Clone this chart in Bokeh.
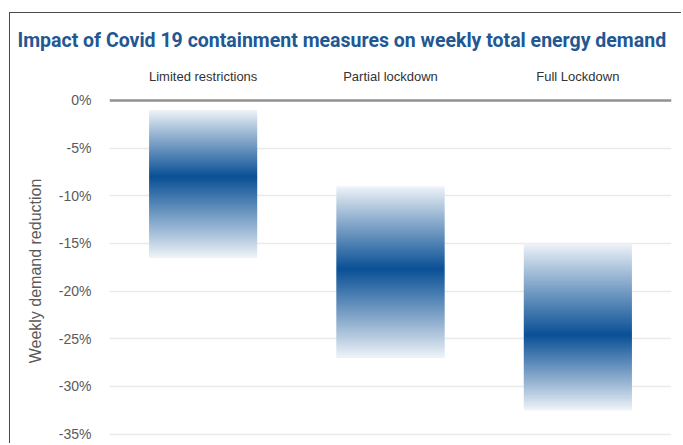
from bokeh.plotting import figure
from bokeh.models import (FactorRange, Range1d, FixedTicker, PrintfTickFormatter,
                          Span, ColumnDataSource)
from bokeh.embed import file_html
from bokeh.resources import INLINE

# ---- data ----
categories = ["Limited restrictions", "Partial lockdown", "Full Lockdown"]
range_top = [-1.0, -9.0, -15.0]        # upper end of demand reduction range (%)
range_bottom = [-16.5, -27.0, -32.5]   # lower end of demand reduction range (%)
range_peak = [-8.0, -17.7, -24.6]      # most likely value (darkest band)
y_ticks = [0, -5, -10, -15, -20, -25, -30, -35]

title_text = "Impact of Covid 19 containment measures on weekly total energy demand"
y_label = "Weekly demand reduction"

# ---- styles ----
DARK = (10, 80, 150)
WHITE = (255, 255, 255)
SANS = "Liberation Sans"


def blend(k):
    r = [round(WHITE[i] + (DARK[i] - WHITE[i]) * k) for i in range(3)]
    return "#%02x%02x%02x" % tuple(r)


p = figure(width=672, height=431, output_backend="svg", toolbar_location=None,
           x_range=FactorRange(factors=categories, range_padding=0),
           y_range=Range1d(-36.1, 0.31), x_axis_location="above",
           title=title_text,
           min_border_left=99, min_border_right=11, min_border_top=83,
           min_border_bottom=0)

# framing box of the original figure (left and top edges)
p.styles = {"margin-left": "9px", "margin-top": "12px",
            "border-left": "1.5px solid #4a4a4a", "border-top": "1.5px solid #4a4a4a"}

p.background_fill_color = "white"
p.border_fill_color = "white"
p.outline_line_color = None

# title
p.title.text_font = "Roboto"
p.title.text_font_size = "19.5px"
p.title.text_font_style = "bold"
p.title.text_color = "#215893"
p.title.align = "left"
p.title.offset = -92
p.title.standoff = 27

# category axis above
xa = p.xaxis[0]
xa.axis_line_color = None
xa.major_tick_line_color = None
xa.minor_tick_line_color = None
xa.major_label_text_font = SANS
xa.major_label_text_font_size = "13px"
xa.major_label_text_color = "#333333"
xa.major_label_standoff = 8

# y axis
ya = p.yaxis[0]
ya.ticker = FixedTicker(ticks=y_ticks)
ya.formatter = PrintfTickFormatter(format="%d%%")
ya.axis_line_color = None
ya.major_tick_line_color = None
ya.minor_tick_line_color = None
ya.major_label_text_font = SANS
ya.major_label_text_font_size = "14px"
ya.major_label_text_color = "#5a5a5a"
ya.major_label_standoff = 12
ya.axis_label = y_label
ya.axis_label_text_font = SANS
ya.axis_label_text_font_size = "16px"
ya.axis_label_text_font_style = "normal"
ya.axis_label_text_color = "#5a5a5a"
ya.axis_label_standoff = 12

# grid
p.xgrid.grid_line_color = None
p.ygrid.ticker = FixedTicker(ticks=[t for t in y_ticks if t != 0])
p.ygrid.grid_line_color = "#e9e9e9"
p.ygrid.grid_line_width = 1.5

p.add_layout(Span(location=0, dimension="width", line_color="#919191", line_width=2.5))

# gradient range bars (each range drawn as thin stacked slices)
N = 120
xs, tops, bottoms, colors = [], [], [], []
for cat, t, b, pk in zip(categories, range_top, range_bottom, range_peak):
    step = (t - b) / N
    for k in range(N):
        hi = t - k * step
        lo = hi - step
        mid = (hi + lo) / 2
        if mid >= pk:
            d = (mid - pk) / (t - pk)
        else:
            d = (pk - mid) / (pk - b)
        inten = 0.06 + 0.94 * (1 - d) ** 0.95
        xs.append(cat)
        tops.append(hi)
        bottoms.append(lo - step if k < N - 1 else lo)
        colors.append(blend(inten))

src = ColumnDataSource(dict(x=xs, top=tops, bottom=bottoms, color=colors))
p.vbar(x="x", top="top", bottom="bottom", width=0.576, source=src,
       fill_color="color", line_color=None)

open("out.html", "w").write(file_html(p, INLINE))
